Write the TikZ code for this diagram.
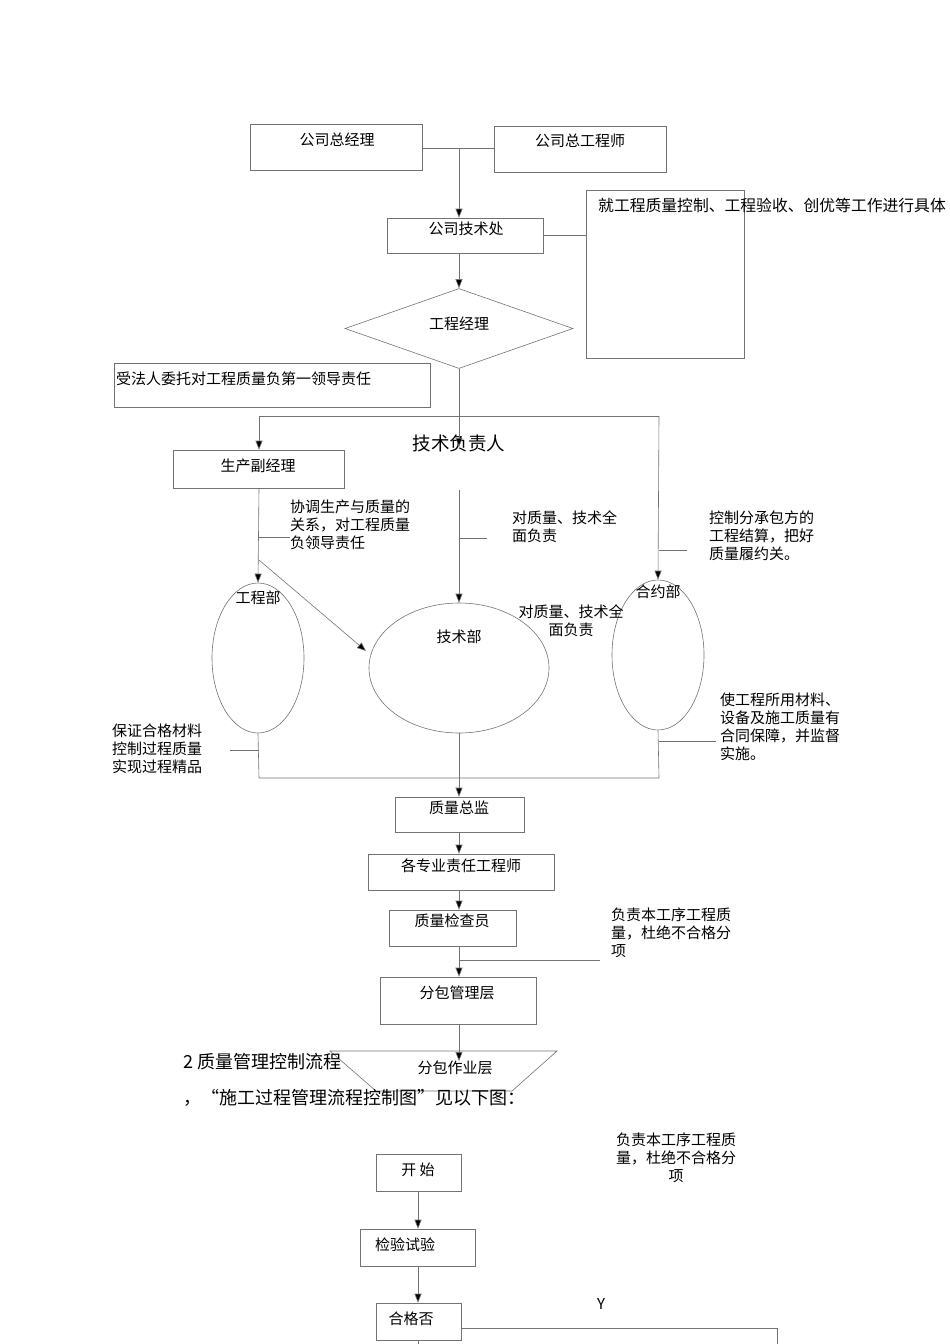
\documentclass[tikz,border=0pt]{standalone}
\usepackage{fontspec}
\setmainfont{Noto Sans CJK SC}
\usetikzlibrary{shapes.geometric,arrows.meta}
\begin{document}
\begin{tikzpicture}[x=1pt,y=-1pt,
  ln/.style={draw=black!55,line width=0.6pt},
  ar/.style={ln,-{Triangle[width=7pt,length=9pt,fill=black]}},
  bx/.style={draw=black!55,line width=0.6pt,rectangle,inner sep=0pt},
  tx/.style={font=\fontsize{15}{18}\selectfont,inner sep=0pt},
  lt/.style={font=\fontsize{15}{18}\selectfont,inner sep=0pt,align=left,anchor=north west},
  el/.style={draw=black!55,line width=0.6pt,ellipse,inner sep=0pt}]
\useasboundingbox (0,0) rectangle (950,1344);
% boxes
\node[bx,minimum width=172,minimum height=46] (zjl) at (336,147) {};
\node[tx] at (337,140) {公司总经理};
\node[bx,minimum width=172,minimum height=46] (zgcs) at (580,149) {};
\node[tx] at (580,141) {公司总工程师};
\node[bx,minimum width=156,minimum height=35] (jsc) at (465,235.5) {};
\node[tx] at (466,229) {公司技术处};
\node[bx,minimum width=158,minimum height=168] (bigbox) at (665,274) {};
\node[tx,anchor=west,font=\fontsize{15.8}{18}\selectfont] at (598,205) {就工程质量控制、工程验收、创优等工作进行具体};
\node[draw=black!55,line width=0.6pt,diamond,aspect=2.9,minimum width=228,minimum height=80,inner sep=0pt] (gcjl) at (459,328.5) {};
\node[tx] at (459,324) {工程经理};
\node[bx,minimum width=316,minimum height=44] (frwt) at (272,385) {};
\node[tx,anchor=west] at (116,379) {受法人委托对工程质量负第一领导责任};
\node[font=\fontsize{18.5}{20}\selectfont,inner sep=0pt] (jsfzr) at (459,443) {技术负责人};
\node[bx,minimum width=171,minimum height=38] (scfjl) at (258.5,469) {};
\node[tx] at (258,466) {生产副经理};
\node[el,minimum width=92,minimum height=150] (gcb) at (258,658) {};
\node[tx] at (258,598) {工程部};
\node[el,minimum width=180,minimum height=130] (jsb) at (459,668) {};
\node[tx] at (459,637) {技术部};
\node[el,minimum width=92,minimum height=150] (hyb) at (658,655) {};
\node[tx] at (658,592) {合约部};
\node[bx,minimum width=129,minimum height=35] (zlzj) at (459.5,814.5) {};
\node[tx] at (459,808) {质量总监};
\node[bx,minimum width=186,minimum height=36] (gzy) at (461,872) {};
\node[tx] at (461,866) {各专业责任工程师};
\node[bx,minimum width=127,minimum height=36] (jcy) at (452.5,928) {};
\node[tx] at (452,921) {质量检查员};
\node[bx,minimum width=156,minimum height=47] (fbgl) at (458,1000.5) {};
\node[tx] at (457,993) {分包管理层};
\draw[ln] (330,1051) -- (557,1051) -- (512,1091) -- (376,1091) -- cycle;
\node[tx] (fbzy) at (455,1068) {分包作业层};
\node[bx,minimum width=85,minimum height=37] (ks) at (418.5,1172.5) {};
\node[tx] at (418,1170) {开 始};
\node[bx,minimum width=115,minimum height=37] (jysy) at (417.5,1247.5) {};
\node[tx] at (405,1245) {检验试验};
\node[bx,minimum width=85,minimum height=37] (hgf) at (418.5,1321.5) {};
\node[tx] at (411,1319) {合格否};
% labels
\node[lt] at (290,500) {协调生产与质量的\\关系，对工程质量\\负领导责任};
\node[lt] at (512,511) {对质量、技术全\\面负责};
\node[lt] at (709,511) {控制分承包方的\\工程结算，把好\\质量履约关。};
\node[tx,align=center] at (571,621) {对质量、技术全\\面负责};
\node[lt] at (112,724) {保证合格材料\\控制过程质量\\实现过程精品};
\node[lt] at (720,693) {使工程所用材料、\\设备及施工质量有\\合同保障，并监督\\实施。};
\node[lt] at (611,908) {负责本工序工程质\\量，杜绝不合格分\\项};
\node[tx,align=center] at (676,1158) {负责本工序工程质\\量，杜绝不合格分\\项};
\node[tx,anchor=west,font=\fontsize{18}{19}\selectfont] at (183,1062) {2 质量管理控制流程};
\node[tx,anchor=west,font=\fontsize{18}{19}\selectfont] at (183,1098) {，“施工过程管理流程控制图”见以下图：};
\node[tx] at (601,1304) {Y};
% connectors
\coordinate (j1) at (459,148);
\draw[ln] (zjl.east |- j1) -- (zgcs.west |- j1);
\draw[ar] (j1) -- (jsc.north -| j1);
\draw[ln] (jsc.east) -- (bigbox.west |- jsc.east);
\draw[ar] (jsc.south -| gcjl.north) -- (gcjl.north);
\coordinate (h1) at (459,416);
\draw[ln] (gcjl.south) -- (h1);
\draw[ln] (259,416) -- (659,416);
\draw[ar] (h1) -- (459,447);
\draw[ar] (259,416) -- (scfjl.north -| 259,0);
\draw[ar] (659,416) -- (hyb.north);
\draw[ar] (scfjl.south -| 259,0) -- (gcb.north);
\draw[ar] (459,490) -- (jsb.north);
\draw[ar] (259,560) -- (366,651);
\draw[ln] (259,537) -- (290,537);
\draw[ln] (459,538) -- (487,538);
\draw[ln] (659,550) -- (687,550);
\draw[ln] (gcb.south) -- (259,778) -- (659,778) -- (hyb.south);
\draw[ln] (230,750) -- (259,750);
\draw[ln] (659,741) -- (716,741);
\draw[ar] (jsb.south) -- (zlzj.north -| jsb.south);
\draw[ar] (zlzj.south -| 459,0) -- (gzy.north -| 459,0);
\draw[ar] (gzy.south -| 459,0) -- (jcy.north -| 459,0);
\draw[ar] (jcy.south -| 459,0) -- (fbgl.north -| 459,0);
\draw[ln] (459,960) -- (600,960);
\draw[ar] (fbgl.south -| 459,0) -- (459,1061);
\draw[ar] (ks.south -| 418,0) -- (jysy.north -| 418,0);
\draw[ar] (jysy.south -| 418,0) -- (hgf.north -| 418,0);
\draw[ln] (hgf.south -| 418,0) -- (418,1344);
\draw[ln] (hgf.east |- 0,1328) -- (777,1328) -- (777,1344);
\end{tikzpicture}
\end{document}
